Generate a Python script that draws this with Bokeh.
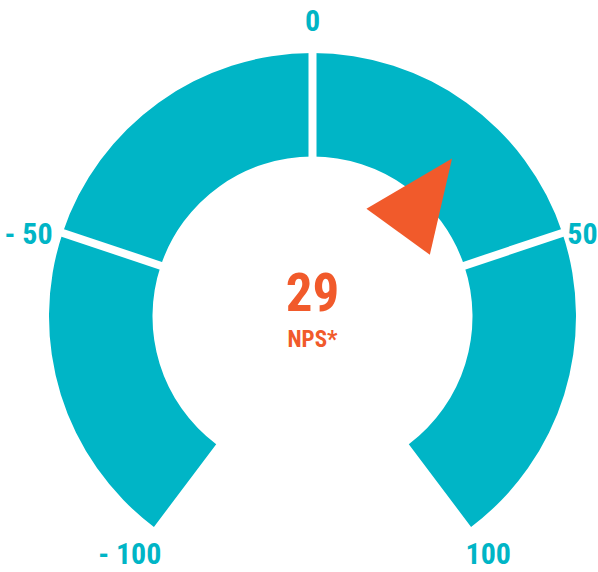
import numpy as np
from bokeh.plotting import figure
from bokeh.models import ColumnDataSource, Range1d
from bokeh.core.properties import value
from bokeh.embed import file_html
from bokeh.resources import INLINE

# ---- data ----
segment_starts = [-100, -50, 0, 50]
segment_ends = [-50, 0, 50, 100]
tick_values = [-100, -50, 0, 50, 100]
tick_labels = ["- 100", "- 50", "0", "50", "100"]
nps_value = 29
nps_label = "NPS*"

# ---- layout / style ----
W, H = 598, 572
CX, CY = 312, 256
R_IN, R_OUT = 160, 263.5
SPAN = 143.0  # gauge degrees (clockwise from top) for +/-100
TEAL = "#00B5C6"
ORANGE = "#F15A2B"
FONT = "Roboto Condensed"


def gauge_deg(v):
    return np.asarray(v, dtype=float) / 100.0 * SPAN


def math_rad(v):
    return np.deg2rad(90.0 - gauge_deg(v))


p = figure(width=W, height=H, x_range=Range1d(0, W), y_range=Range1d(0, H),
           output_backend="svg", toolbar_location=None, min_border=0)
p.axis.visible = False
p.grid.visible = False
p.outline_line_color = None
p.background_fill_color = "white"
p.border_fill_color = "white"
p.styles = {"position": "absolute", "left": "0px", "top": "0px"}

# segments
seg = ColumnDataSource(dict(start=math_rad(segment_ends), end=math_rad(segment_starts)))
p.annular_wedge(x=CX, y=CY, inner_radius=R_IN, outer_radius=R_OUT,
                start_angle="start", end_angle="end", source=seg,
                fill_color=TEAL, line_color=None)

# gaps between segments (constant width)
bounds = np.array(segment_starts[1:], dtype=float)
th = np.deg2rad(gauge_deg(bounds))
gap = ColumnDataSource(dict(
    x0=CX + (R_IN - 3) * np.sin(th), y0=CY + (R_IN - 3) * np.cos(th),
    x1=CX + (R_OUT + 3) * np.sin(th), y1=CY + (R_OUT + 3) * np.cos(th)))
p.segment(x0="x0", y0="y0", x1="x1", y1="y1", source=gap,
          line_color="white", line_width=8, line_cap="butt")

# pointer
t = np.deg2rad(gauge_deg(nps_value))
d = np.array([np.sin(t), np.cos(t)])
n = np.array([np.cos(t), -np.sin(t)])
local = [(210.7, 0.0), (116.5, -31.0), (124.0, 47.0)]
px = [CX + u * d[0] + v * n[0] for u, v in local]
py = [CY + u * d[1] + v * n[1] for u, v in local]
p.patch(px, py, fill_color=ORANGE, line_color=None)

# tick labels
tv = np.asarray(tick_values, dtype=float)
tt = np.deg2rad(gauge_deg(tv))
R_LAB = 292
lx = CX + R_LAB * np.sin(tt)
lx = np.minimum(lx, W - 16)  # keep right-hand label inside the page
nudge = np.select([tv == 0, np.abs(tv) == 100], [4, -4], default=-10)
ly = CY + R_LAB * np.cos(tt) + nudge
xoff = np.where(tv < 0, -7, 0)
lab = ColumnDataSource(dict(x=lx, y=ly, text=tick_labels, xoff=xoff))
p.text(x="x", y="y", text="text", x_offset="xoff", source=lab,
       text_font=value(FONT), text_font_size="30px", text_font_style="bold",
       text_color=TEAL, text_align="center", text_baseline="middle")

# centre value
p.text(x=[CX], y=[CY + 25], text=[str(nps_value)],
       text_font=value(FONT), text_font_size="53px", text_font_style="bold",
       text_color=ORANGE, text_align="center", text_baseline="middle")
p.text(x=[CX], y=[CY - 23], text=[nps_label],
       text_font=value(FONT), text_font_size="23px", text_font_style="bold",
       text_color=ORANGE, text_align="center", text_baseline="middle")

open("out.html", "w").write(file_html(p, INLINE))
